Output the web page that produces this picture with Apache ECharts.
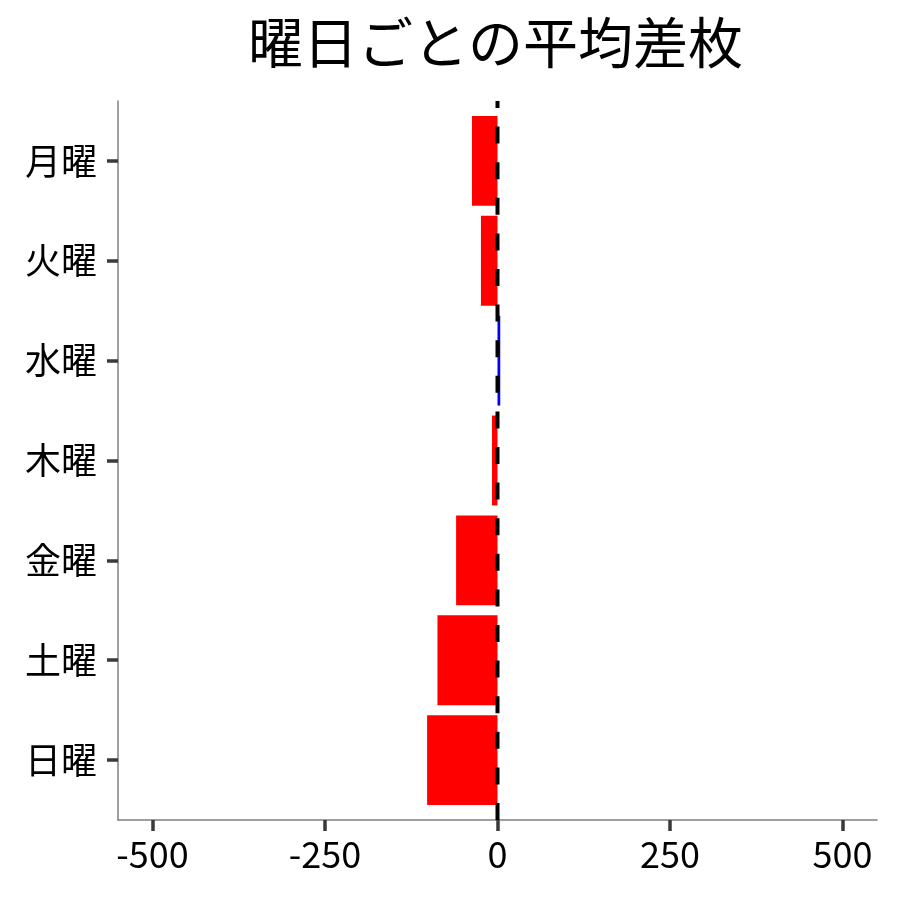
<!DOCTYPE html>
<html>
<head>
<meta charset="utf-8">
<script src="https://cdn.jsdelivr.net/npm/echarts@6/dist/echarts.min.js"></script>
<style>
html,body{margin:0;padding:0;background:#fff;}
#chart{width:900px;height:900px;}
</style>
</head>
<body>
<div id="chart"></div>
<script>
const days = ['月曜', '火曜', '水曜', '木曜', '金曜', '土曜', '日曜'];
const avgDiff = [-37, -24, 4, -8, -60, -87, -102];
const xTicks = [-500, -250, 0, 250, 500];
const refLineX = 0;

const FONT = '"Noto Sans CJK JP", "Noto Sans", sans-serif';
const chart = echarts.init(document.getElementById('chart'), null, {renderer: 'canvas'});
const dayIdx = days.map((d, i) => i + 1);

chart.setOption({
  animation: false,
  backgroundColor: '#ffffff',
  title: {
    text: '曜日ごとの平均差枚',
    left: 243,
    top: 10,
    textStyle: {fontFamily: FONT, fontSize: 55, fontWeight: 'normal', color: '#000'}
  },
  grid: {left: 118, right: 23, top: 101, bottom: 80, containLabel: false},
  xAxis: {
    type: 'value',
    min: -550,
    max: 550,
    splitLine: {show: false},
    axisLine: {show: true, onZero: false, lineStyle: {color: '#808080', width: 1.5}},
    axisTick: {show: true, customValues: xTicks, length: 11, lineStyle: {color: '#3a3a3a', width: 3.5}},
    axisLabel: {customValues: xTicks, margin: 16, fontFamily: FONT, fontSize: 36, color: '#000'}
  },
  yAxis: {
    type: 'value',
    min: 0.4,
    max: 7.6,
    inverse: true,
    splitLine: {show: false},
    axisLine: {show: true, onZero: false, lineStyle: {color: '#808080', width: 1.5}},
    axisTick: {show: true, customValues: dayIdx, length: 11, lineStyle: {color: '#3a3a3a', width: 3.5}},
    axisLabel: {
      customValues: dayIdx,
      margin: 21,
      fontFamily: FONT, fontSize: 36, color: '#000',
      formatter: v => days[Math.round(v) - 1] || ''
    }
  },
  series: [
    {
      type: 'custom',
      data: days.map((d, i) => [avgDiff[i], i + 1]),
      encode: {x: 0, y: 1},
      clip: true,
      renderItem: function (params, api) {
        const v = api.value(0), c = api.value(1);
        const p1 = api.coord([0, c - 0.45]);
        const p2 = api.coord([v, c + 0.45]);
        return {
          type: 'rect',
          shape: {
            x: Math.min(p1[0], p2[0]),
            y: Math.min(p1[1], p2[1]),
            width: Math.abs(p2[0] - p1[0]),
            height: Math.abs(p2[1] - p1[1])
          },
          style: {fill: v >= 0 ? '#0000ff' : '#ff0000'}
        };
      },
      z: 2
    },
    {
      type: 'line',
      data: [[refLineX, 7.6], [refLineX, 0.4]],
      symbol: 'none',
      silent: true,
      lineStyle: {color: '#000', width: 4, type: [17, 18.6], cap: 'butt'},
      z: 5
    }
  ]
});
</script>
</body>
</html>
